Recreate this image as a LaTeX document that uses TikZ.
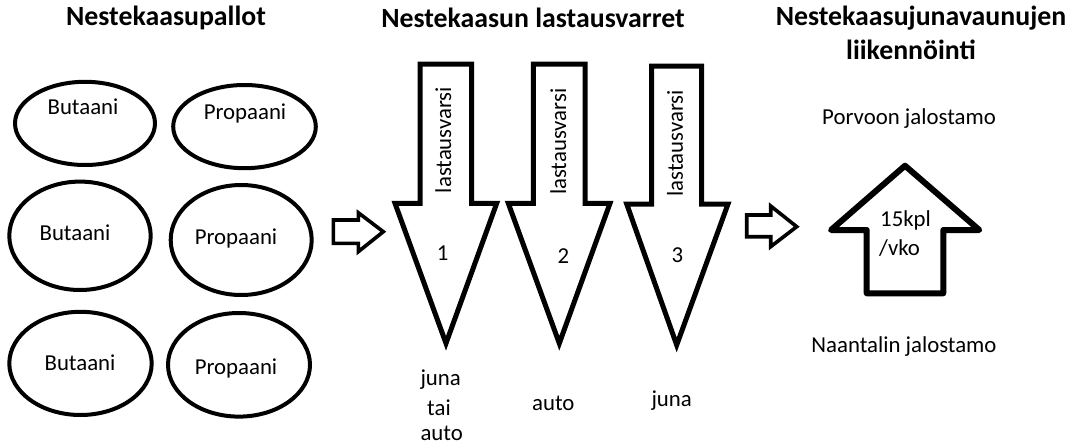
\documentclass[tikz,border=0pt]{standalone}
\usepackage{fontspec}
\setmainfont{Carlito}
\begin{document}
\begin{tikzpicture}[x=1pt,y=-1pt,
  tank/.style={line width=4pt},
  bigarrow/.style={line width=5pt,line join=miter,miter limit=20},
  smallarrow/.style={line width=3.6pt,line join=miter,miter limit=20},
  uparrow/.style={line width=6pt,line join=round},
  lbl/.style={inner sep=0pt,font=\fontsize{22.8}{26}\selectfont},
  ttl/.style={inner sep=0pt,font=\bfseries\fontsize{27.8}{32}\selectfont},
  vert/.style={lbl,rotate=90}]
\useasboundingbox (0,0) rectangle (1077,447);

% Column titles
\node[ttl] (t1) at (166,18) {Nestekaasupallot};
\node[ttl] (t2) at (533,18) {Nestekaasun lastausvarret};
\node[ttl] (t3a) at (921,18) {Nestekaasujunavaunujen};
\node[ttl] (t3b) at (911,50) {liikennöinti};

% Storage spheres
\draw[tank] (85,123.4) ellipse [x radius=70, y radius=41.6];
\draw[tank] (244.5,126.6) ellipse [x radius=71.3, y radius=41.6];
\draw[tank] (80,235.8) ellipse [x radius=70.7, y radius=54.2];
\draw[tank] (241.2,240) ellipse [x radius=70.5, y radius=55];
\draw[tank] (80.5,363.4) ellipse [x radius=71.2, y radius=51.6];
\draw[tank] (239,364.8) ellipse [x radius=71, y radius=51.8];
\node[lbl] (b1) at (83,106.7) {Butaani};
\node[lbl] (p1) at (245,113) {Propaani};
\node[lbl] (b2) at (75,233) {Butaani};
\node[lbl] (p2) at (236,238) {Propaani};
\node[lbl] (b3) at (80,363) {Butaani};
\node[lbl] (p3) at (236,368) {Propaani};

% Flow arrows between the columns
\draw[smallarrow] (333.3,220) -- (358.3,220) -- (358.3,212.7) -- (383.3,231.7)
  -- (358.3,251.7) -- (358.3,243.3) -- (333.3,243.3) -- cycle;
\draw[smallarrow] (746.7,215) -- (770.7,215) -- (770.7,206) -- (796.7,226.7)
  -- (770.7,246.7) -- (770.7,236.7) -- (746.7,236.7) -- cycle;

% Loading arms
\draw[bigarrow] (420,64) -- (471.7,64) -- (471.7,203.3) -- (496.7,203.3)
  -- (446,343.3) -- (395,203.3) -- (420,203.3) -- cycle;
\draw[bigarrow] (533.3,64) -- (585,64) -- (585,203.3) -- (610,203.3)
  -- (559.3,343.3) -- (508.3,203.3) -- (533.3,203.3) -- cycle;
\draw[bigarrow] (651.7,66) -- (701.7,66) -- (701.7,204) -- (728,204)
  -- (676.7,345) -- (626.7,204) -- (651.7,204) -- cycle;
\node[vert] (a1) at (443.3,140) {lastausvarsi};
\node[vert] (a2) at (558.3,141.7) {lastausvarsi};
\node[vert] (a3) at (675,143.3) {lastausvarsi};
\node[lbl] (n1) at (442.7,253.3) {1};
\node[lbl] (n2) at (563.3,256) {2};
\node[lbl] (n3) at (677.3,255) {3};
\node[lbl] (m1a) at (440.7,380) {juna};
\node[lbl] (m1b) at (439,407.3) {tai};
\node[lbl] (m1c) at (441.7,433) {auto};
\node[lbl] (m2) at (553.3,403.3) {auto};
\node[lbl] (m3) at (671.7,400.7) {juna};

% Rail traffic between the refineries
\node[lbl] (porvoo) at (909,118.3) {Porvoon jalostamo};
\draw[uparrow] (905,165.7) -- (979.3,230) -- (943.3,230) -- (943.3,293.3)
  -- (866.7,293.3) -- (866.7,230) -- (831,230) -- cycle;
\node[lbl,anchor=west] (kpl) at (880,220) {15kpl};
\node[lbl,anchor=west] (vko) at (879,248.3) {/vko};
\node[lbl] (naantali) at (904,346.7) {Naantalin jalostamo};
\end{tikzpicture}
\end{document}
